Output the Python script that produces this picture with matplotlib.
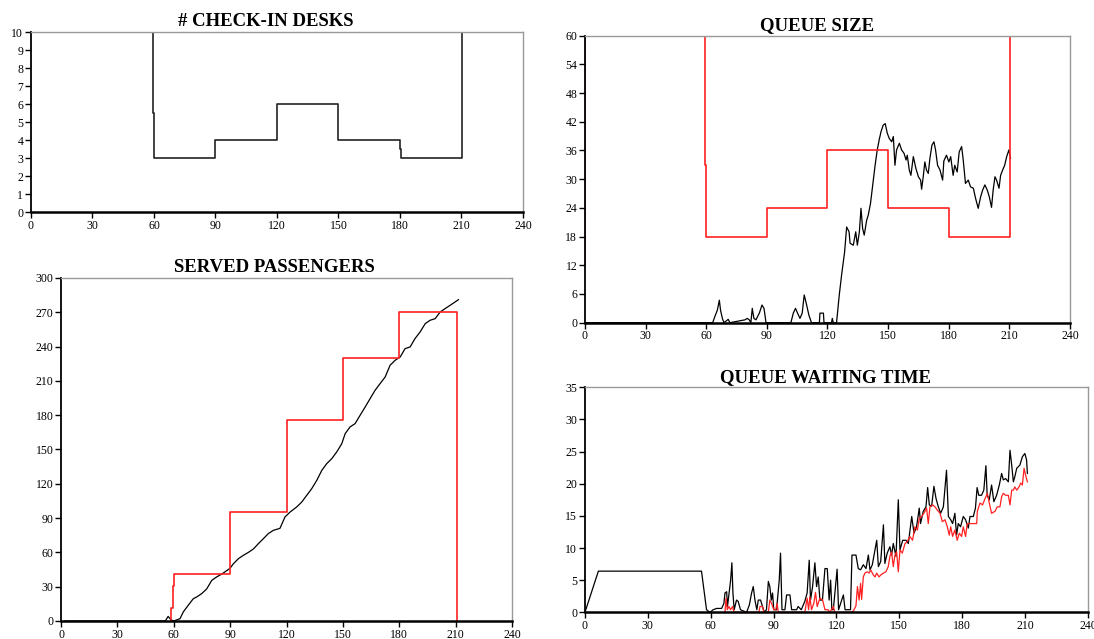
import matplotlib
matplotlib.use('Agg')
import matplotlib.pyplot as plt

# check-in desks (step, post)
desk_t = [59.5, 59.5, 60, 90, 120, 150, 180, 180.3, 210.5, 210.5]
desk_n = [11, 5.5, 3, 4, 6, 4, 3.5, 3, 3, 11]

# served passengers
cap_serv_t = [58.5, 58.5, 59.4, 60, 90, 120, 150, 180, 210.9]
cap_serv_v = [0, 11, 31, 41, 95, 176, 230, 270, 0]
serv_t = [2, 55.5, 57, 58.5, 60, 63.3, 65.1, 67.8, 70.4, 72.2, 74.9, 77.5, 80.2, 82.8, 85.5,
          89.9, 91.7, 94.4, 97, 99.7, 102.4, 105, 107.7, 110.3, 113, 116.5, 119.2, 121.9,
          125.4, 128.1, 130.8, 133.4, 136.1, 138.8, 141.4, 144.1, 146.7, 149.4, 151.2, 153.8,
          156.5, 159.2, 161.8, 164.5, 167.1, 169.8, 172.5, 175.1, 177.8, 180.5, 183.1, 185.8,
          188.4, 191.1, 193.8, 196.4, 199.1, 201.8, 204.4, 207.1, 209.7, 211.5]
serv_v = [0, 0, 4, 1, 0, 2, 8, 14, 19.5, 21, 24, 28, 35.5, 38.5, 41,
          46, 50, 54.5, 57.4, 60, 63, 67.6, 72, 76.4, 79.3, 81, 91, 95.3,
          99.7, 104, 110, 115.7, 123, 131.8, 137.6, 142, 147.8, 155, 163.8, 169.7,
          172.6, 180, 187, 194.5, 201.7, 207.6, 213.4, 223.6, 228, 230.9, 238.2, 239.7,
          247, 252.8, 260, 263, 264.4, 270.3, 273.2, 276.1, 279, 281]

# queue size
cap_queue_t = [0, 0, 59.5, 60, 90, 120, 150, 180, 210.5, 210.5]
cap_queue_v = [12, 66, 33, 18, 24, 36, 24, 18, 18, 66]
queue_t = [0, 63.2, 64.3, 65.5, 66.5, 67.1, 68, 68.8, 70.9, 71.7, 79.2, 80.3, 81.3, 82.1, 82.8,
           83.6, 84.6, 86.3, 87.6, 88.6, 89.6, 101.9, 103.1, 104.2, 105.2, 106.4, 107.5, 108.5,
           109.7, 110.8, 112.1, 116, 116.3, 118, 118.3, 122, 122.4, 122.9, 124.5, 125.9, 127.1,
           128.5, 129.5, 130.7, 131.2, 132.8, 134, 134.8, 135.8, 136.6, 137.4, 138.2, 139.4,
           140.2, 141.3, 142.3, 143.5, 144.6, 145.6, 146.5, 147.6, 148.6, 149.6, 150.6, 151.8,
           152.6, 153.4, 154.2, 155.6, 156.7, 157.9, 158.9, 159.5, 160.5, 161.3, 162.5, 163.8,
           165, 166.1, 166.6, 167.4, 168.2, 169, 169.9, 170.7, 171.7, 172.7, 173.5, 174.5, 175.7,
           177, 177.6, 178.9, 180.1, 181, 182.2, 183, 184.2, 185.2, 186.4, 187.2, 188.3, 189.7,
           190.8, 192.2, 193.3, 194.6, 195.8, 196.8, 197.9, 199.1, 200.1, 201.2, 202, 202.9,
           203.7, 204.9, 205.7, 206.7, 207.7, 208.7, 209.8, 210.6]
queue_v = [0, 0, 1.3, 2.6, 4.7, 2.6, 0.9, 0, 0.7, 0, 0.6, 0.9, 0.6, 0, 3,
           0.9, 0.6, 2, 3.7, 3, 0, 0, 2, 3, 2, 0.9, 2, 5.8,
           3.7, 1.6, 0, 0, 2, 2, 0, 0, 0.9, 0, 0, 6, 10.3,
           14.8, 20, 19, 16.6, 16.2, 19, 16.2, 19, 23.9, 19.7, 18.3, 21.4,
           22.5, 24.9, 28.4, 32.6, 36, 38.2, 39.9, 41.3, 41.6, 39.6, 38.5, 37.8,
           38.9, 32.9, 36.1, 37.5, 36.1, 35.4, 34, 35, 31.9, 30.8, 34.7, 32.2,
           30.5, 29.8, 27.9, 30.5, 33.6, 31.9, 31.2, 34.3, 37.1, 37.8, 36.1, 32.9, 31.9,
           29.8, 33.8, 35, 33.6, 34.7, 30.8, 32.9, 31.5, 35.7, 36.8, 34, 29.1, 29.8,
           28.4, 28.1, 26, 23.9, 26.3, 27.7, 28.8, 27.7, 26.3, 24.1, 27.7, 30.5,
           29.8, 28.1, 30.8, 31.9, 32.9, 34.7, 36.1, 34.3]

# queue waiting time
wait_t = [0, 6.4, 55.6, 57.2, 58, 59.6, 61.2, 62.8, 65.2, 66.3, 66.8, 67.6, 68, 69.5, 70.1,
          70.6, 71.2, 72.3, 73.1, 74.2, 77.1, 78.4, 79.5, 80.3, 81.1, 82, 82.7, 83.8, 84.7,
          85.6, 86.6, 87.5, 88.2, 88.9, 89.5, 90.1, 91.4, 92.7, 93.3, 94, 95.4, 96.2, 97.8,
          98.6, 101, 101.7, 103.2, 104.9, 106, 107, 107.6, 108.6, 109.7, 110.5, 111.3, 112.1,
          113.3, 114.5, 115.6, 116.5, 117.2, 117.8, 118.5, 120.3, 121, 123.3, 124.1, 126.7,
          127.4, 129.3, 130.4, 131.5, 132.8, 134.1, 135.2, 136, 137.1, 138.1, 139.2, 140,
          141.1, 142.4, 143.1, 144.2, 145.5, 146.3, 147.1, 148.4, 149.5, 150.3, 151.6, 153.2,
          154.3, 155.9, 157, 158.2, 159.5, 160.1, 161.4, 162.7, 163.5, 164.3, 165.4, 166.5,
          167.5, 168.6, 169.7, 171, 172.5, 173.4, 174.5, 175.4, 176.5, 177.3, 178.1, 179.2,
          180.5, 181.6, 182.9, 183.7, 185.3, 186.3, 187.1, 187.9, 189.2, 190.3, 191.3, 191.9,
          192.9, 194, 195.1, 196.4, 197.7, 198.8, 199.6, 200.7, 202, 202.8, 203.6, 204.4,
          205.1, 206, 207.5, 208.7, 209.9, 210.7, 211.1]
wait_v = [0, 6.4, 6.4, 2.4, 0.4, 0, 0.4, 0.6, 0.6, 1.4, 3, 3.2, 0.9, 5, 7.7,
          3, 0.4, 1.9, 1.7, 0.4, 0, 1.1, 3, 4, 1.9, 0.4, 1.9, 1.9, 0.9,
          0, 0.4, 4.8, 4, 1.9, 3, 0.4, 0.4, 5, 9.2, 0.4, 0.4, 2.7, 2.7,
          0.4, 0.4, 0.9, 0.4, 1.7, 3, 8.1, 1.9, 4, 7.7, 4, 5.5, 1.9,
          1.9, 6.8, 6.8, 1.9, 5, 0.4, 0.4, 6.7, 0.4, 2.7, 0.4, 0.4,
          8.9, 8.9, 6.8, 6.6, 7.4, 6.8, 8.9, 6.6, 7.4, 9.2, 11.2, 7.1,
          7.9, 13.6, 7.6, 9.2, 10.2, 8.9, 10.7, 8.7, 17.5, 9.7, 11.2, 11.2,
          10.7, 14.9, 12.3, 13.3, 16.2, 13.8, 15.7, 16.4, 19.4, 16.7, 16.5, 19.6,
          17.7, 16.4, 15.4, 16.4, 22.1, 14.9, 14.4, 13.8, 15.4, 12, 13.8, 13.3,
          14.9, 14.4, 13.1, 14.9, 14.9, 16.2, 19.4, 18.2, 18.2, 19, 22.8, 18.2,
          17.5, 19.8, 17.2, 18.2, 19.8, 21.6, 20.6, 20.8, 20.3, 25.2, 22.9, 20.3,
          21.1, 22.4, 22.9, 24.2, 24.7, 23.7, 21.6]
wait_q_t = [66.8, 67.3, 67.9, 68.7, 69.5, 70.4, 71.1, 83, 83.5, 84.7, 85.4, 87.5, 88.2, 89,
            90.1, 91, 91.7, 92.2, 104.9, 106, 106.7, 107.3, 108.1, 109.2, 110, 110.8, 112.1,
            113.4, 114.5, 116, 116.9, 118.5, 119.2, 127.3, 128.2, 129.3, 130, 130.8, 131.5,
            132, 132.8, 133.6, 134.7, 135.6, 136.3, 137.6, 138.4, 139.2, 140.3, 141.1, 142.4,
            143.6, 144.7, 145.5, 146.3, 147.1, 147.9, 148.7, 149.5, 150.3, 151.4, 152.7, 153.8,
            155, 156.3, 157.4, 158.6, 159.5, 160.6, 161.7, 163, 163.8, 164.6, 165.9, 167,
            168.1, 169.4, 170.5, 171.8, 172.9, 173.8, 174.5, 175.4, 176.5, 177.6, 178.6, 179.7,
            180.5, 181.6, 182.4, 184.5, 186.9, 187.2, 188.5, 189.7, 190.9, 192, 192.9, 194,
            195.6, 196.7, 198, 198.8, 199.6, 200.7, 202, 202.8, 203.6, 204.4, 205.1, 206,
            207.1, 207.9, 208.7, 209.5, 210.4, 211.1]
wait_q_v = [0, 2.2, 0.4, 0.9, 0.4, 0.9, 0, 0, 0.9, 0.9, 0, 0, 1.9, 1.4,
            0.4, 0.4, 1.4, 0, 0, 2.2, 0.4, 2.4, 0.4, 1.4, 3.1, 0.9, 2.2,
            1.9, 0.4, 0.4, 0, 0.9, 0, 0, 0.3, 1, 4, 1.9, 4.5,
            2, 5.5, 6.1, 6.3, 6.1, 6.6, 5.8, 5.5, 6.1, 5.5, 5.8, 6.1,
            6.3, 7.1, 8.7, 9.4, 7.1, 8.9, 9.4, 6.3, 9.7, 9.2, 10.7, 11,
            11.8, 11.2, 13.3, 12.8, 14.6, 14.9, 15.4, 16.2, 13.8, 16.4, 16.7, 16.4,
            15.9, 15.4, 14.1, 14.4, 13.3, 12, 13.3, 11.8, 12.8, 11.2, 12.3, 11.8,
            13.3, 11.8, 13.8, 13.8, 13.8, 15.7, 17, 16.7, 17.7, 18.5, 17, 15.4,
            15.7, 16.4, 16.4, 18, 18.5, 18.2, 18.2, 16.7, 19, 19, 19.5, 19,
            19.5, 20.1, 19.8, 22.4, 21.1, 20.3]

RED = '#ff2020'
plt.rcParams['font.family'] = ['Liberation Serif', 'DejaVu Serif']


def style_axes(ax, title, ymax, ystep, title_x):
    ax.set_xlim(0, 240)
    ax.set_ylim(0, ymax)
    ax.set_xticks(range(0, 241, 30))
    ax.set_yticks([ystep * i for i in range(int(round(ymax / ystep)) + 1)])
    ax.tick_params(direction='out', length=4, width=1, labelsize=8.5, pad=1.5, colors='black')
    ax.spines['left'].set_linewidth(1.3)
    ax.spines['bottom'].set_linewidth(1.8)
    for s in ['top', 'right']:
        ax.spines[s].set_color('#999999')
        ax.spines[s].set_linewidth(1.0)
    # titles sit a little left of the axes centre
    ax.set_title(title, fontsize=13.5, fontweight='bold', pad=4, x=title_x)


fig = plt.figure(figsize=(10.94, 6.39), dpi=100)

ax1 = fig.add_axes([0.0283, 0.6682, 0.4497, 0.2817])
ax1.step(desk_t, desk_n, where='post', color='#222222', lw=1.2)
style_axes(ax1, '# CHECK-IN DESKS', 10, 1, 0.478)

ax2 = fig.add_axes([0.0558, 0.0282, 0.4122, 0.5368])
ax2.plot(serv_t, serv_v, color='black', lw=0.9)
ax2.step(cap_serv_t, cap_serv_v, where='post', color=RED, lw=1.2)
style_axes(ax2, 'SERVED PASSENGERS', 300, 30, 0.472)

ax3 = fig.add_axes([0.5347, 0.4950, 0.4433, 0.4493])
ax3.plot(queue_t, queue_v, color='black', lw=0.9)
ax3.step(cap_queue_t, cap_queue_v, where='post', color=RED, lw=1.2)
style_axes(ax3, 'QUEUE SIZE', 60, 6, 0.479)

ax4 = fig.add_axes([0.5347, 0.0418, 0.4598, 0.3521])
ax4.plot(wait_t, wait_v, color='black', lw=0.9)
ax4.plot(wait_q_t, wait_q_v, color=RED, lw=0.9)
style_axes(ax4, 'QUEUE WAITING TIME', 35, 5, 0.478)

fig.savefig('out.png', dpi=100)
